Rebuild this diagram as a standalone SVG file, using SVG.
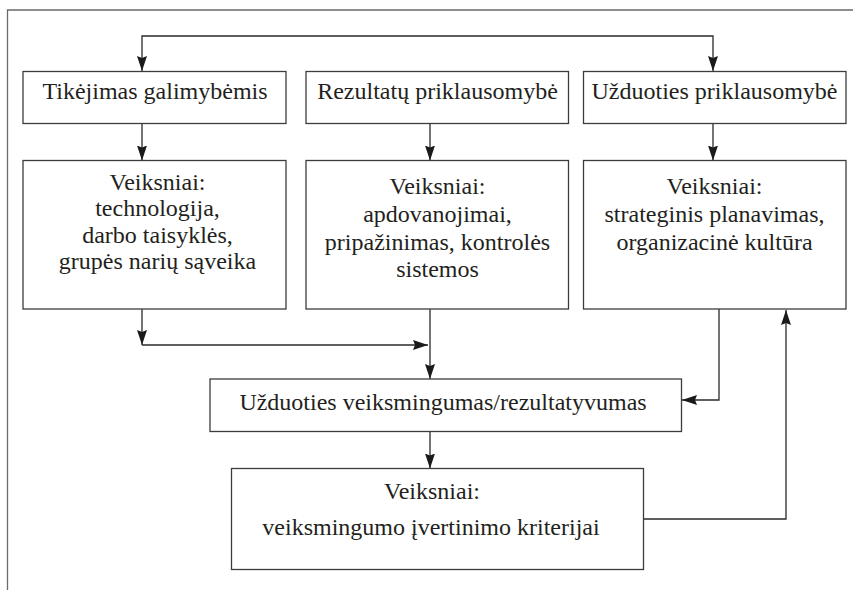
<svg xmlns="http://www.w3.org/2000/svg" width="853" height="590" viewBox="0 0 853 590">
  <style>
    .frame { fill: none; stroke: #6a6a6a; stroke-width: 1.3; }
    .box { fill: #ffffff; stroke: #3c3c3c; stroke-width: 1.3; }
    .lbl { font-family: "Liberation Serif", "Times New Roman", serif; font-size: 24px; fill: #231f20; text-anchor: middle; }
    .conn { fill: none; stroke: #2a2a2a; stroke-width: 1.3; }
  </style>
  <defs>
    <marker id="arrow" markerUnits="userSpaceOnUse" markerWidth="16" markerHeight="11" refX="15" refY="5" orient="auto-start-reverse" viewBox="0 0 16 10">
      <path d="M0,0 L15,5 L0,10 L2,5 z" fill="#1a1a1a"/>
    </marker>
  </defs>

  <rect width="853" height="590" fill="#ffffff"/>

  <!-- page frame: top and left rules -->
  <path class="frame" d="M853,10 L7.5,10 L7.5,590"/>

  <!-- connectors -->
  <g id="connectors">
    <path class="conn" d="M142,71 L142,36 L713,36 L713,71" marker-start="url(#arrow)" marker-end="url(#arrow)"/>
    <path class="conn" d="M142,123.5 L142,160.5" marker-end="url(#arrow)"/>
    <path class="conn" d="M430,123.5 L430,160.5" marker-end="url(#arrow)"/>
    <path class="conn" d="M713,123.5 L713,160.5" marker-end="url(#arrow)"/>
    <path class="conn" d="M142,309 L142,345" marker-end="url(#arrow)"/>
    <path class="conn" d="M142,345 L428,345" marker-end="url(#arrow)"/>
    <path class="conn" d="M430,309 L430,379" marker-end="url(#arrow)"/>
    <path class="conn" d="M719,309 L719,400 L682,400" marker-end="url(#arrow)"/>
    <path class="conn" d="M430,431.5 L430,468.5" marker-end="url(#arrow)"/>
    <path class="conn" d="M643.5,519 L786,519 L786,310" marker-end="url(#arrow)"/>
  </g>

  <!-- top row -->
  <g id="tikejimas">
    <rect class="box" x="23" y="71.5" width="263" height="52"/>
    <text class="lbl" x="155" y="99">Tikėjimas galimybėmis</text>
  </g>
  <g id="rezultatu">
    <rect class="box" x="306" y="71.5" width="262.5" height="52"/>
    <text class="lbl" x="437.5" y="99">Rezultatų priklausomybė</text>
  </g>
  <g id="uzduoties">
    <rect class="box" x="583.5" y="71.5" width="262.5" height="52"/>
    <text class="lbl" x="714.5" y="99">Užduoties priklausomybė</text>
  </g>

  <!-- factor boxes -->
  <g id="veiksniai-1">
    <rect class="box" x="23" y="160.5" width="263" height="148.5"/>
    <text class="lbl" x="157.5" y="189.5">Veiksniai:</text>
    <text class="lbl" x="157.5" y="216">technologija,</text>
    <text class="lbl" x="157.5" y="242.5">darbo taisyklės,</text>
    <text class="lbl" x="157.5" y="269">grupės narių sąveika</text>
  </g>
  <g id="veiksniai-2">
    <rect class="box" x="306" y="160.5" width="262.5" height="148.5"/>
    <text class="lbl" x="437.5" y="194">Veiksniai:</text>
    <text class="lbl" x="437.5" y="222">apdovanojimai,</text>
    <text class="lbl" x="437.5" y="249.5">pripažinimas, kontrolės</text>
    <text class="lbl" x="437.5" y="277">sistemos</text>
  </g>
  <g id="veiksniai-3">
    <rect class="box" x="583.5" y="160.5" width="262.5" height="148.5"/>
    <text class="lbl" x="714.5" y="193.5">Veiksniai:</text>
    <text class="lbl" x="714.5" y="222">strateginis planavimas,</text>
    <text class="lbl" x="714.5" y="250">organizacinė kultūra</text>
  </g>

  <!-- performance -->
  <g id="veiksmingumas">
    <rect class="box" x="210" y="379" width="471.5" height="52.5"/>
    <text class="lbl" x="443" y="410">Užduoties veiksmingumas/rezultatyvumas</text>
  </g>

  <!-- evaluation criteria -->
  <g id="kriterijai">
    <rect class="box" x="231.5" y="468.5" width="412" height="101"/>
    <text class="lbl" x="432" y="498.5">Veiksniai:</text>
    <text class="lbl" x="431" y="535">veiksmingumo įvertinimo kriterijai</text>
  </g>
</svg>
